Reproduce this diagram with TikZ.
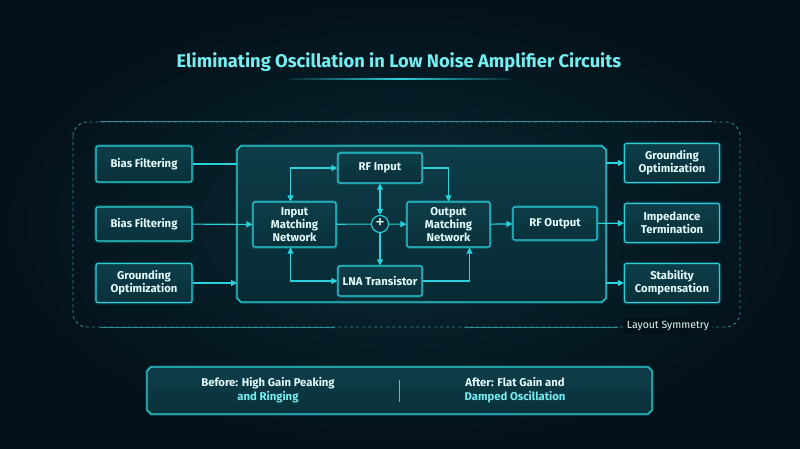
\documentclass[tikz,border=0pt]{standalone}
\usepackage{fontspec}
\setmainfont{Fira Sans}
\usetikzlibrary{positioning,calc,arrows.meta,shapes.misc}
\definecolor{bgdark}{HTML}{03111A}
\definecolor{bgmid}{HTML}{0A2A34}
\definecolor{tealtop}{HTML}{0E3E4A}
\definecolor{tealbot}{HTML}{08303A}
\definecolor{glow}{HTML}{2AD3DB}
\definecolor{dimline}{HTML}{2F8A93}
\definecolor{ink}{HTML}{E4FBFC}
\definecolor{titlecyan}{HTML}{74EEF1}
\tikzset{
  box/.style={draw=glow,line width=1.1pt,rounded corners=2pt,top color=tealtop,
    bottom color=tealbot,inner sep=2pt,text=ink,align=center,
    font=\fontsize{11.3}{12.8}\selectfont\bfseries,
    preaction={draw=glow,draw opacity=0.22,line width=3.5pt}},
  sidebox/.style={box,minimum width=96pt,minimum height=38pt},
  innerbox/.style={box,minimum width=84pt},
  arr/.style={-{Triangle[length=6pt,width=6pt]},draw=glow,line width=1.1pt},
  arrtwo/.style={{Triangle[length=6pt,width=6pt]}-{Triangle[length=6pt,width=6pt]},
    draw=glow,line width=1.1pt},
  link/.style={draw=glow,line width=1.1pt},
}

\begin{document}
\begin{tikzpicture}[x=1pt,y=-1pt]
  \useasboundingbox (0,0) rectangle (800,449);
  \shade[inner color=bgmid,outer color=bgdark] (0,0) rectangle (800,449);

  % title
  \node[font=\fontsize{18.3}{21}\selectfont\bfseries,text=titlecyan] (title) at (399,62)
    {Eliminating Oscillation in Low Noise Amplifier Circuits};
  \shade[left color=bgmid,right color=bgmid,middle color=glow] (290,78.6) rectangle (510,79.6);

  % layout frame
  \draw[dimline,dashed,line width=0.9pt,rounded corners=14pt] (73,122) rectangle (740,327);
  \draw[dimline,line width=1pt] (100,122) -- (712,122);
  \draw[dimline,line width=1pt] (100,327) -- (335,327) (465,327) -- (618,327);
  \node[fill=bgdark,text=ink,inner sep=3pt,font=\fontsize{10.5}{12}\selectfont] (sym) at (668,326)
    {Layout Symmetry};

  % main block
  \node[box,chamfered rectangle,chamfered rectangle xsep=5pt,rounded corners=0pt,
    minimum width=369pt,minimum height=156pt,outer sep=0pt,
    top color=tealtop!90!bgmid,bottom color=tealbot!80!bgdark] (main) at (421.5,224) {};

  % left column
  \node[sidebox,minimum height=36pt] (bias1) at (144,164) {Bias Filtering};
  \node[sidebox,minimum height=34pt] (bias2) at (144,224) {Bias Filtering};
  \node[sidebox,minimum height=39pt] (gndin) at (144,283) {Grounding\\Optimization};

  % right column
  \node[sidebox,minimum width=95pt,minimum height=39pt] (gndout) at (672,163) {Grounding\\Optimization};
  \node[sidebox,minimum width=95pt,minimum height=39pt] (imped) at (672,223) {Impedance\\Termination};
  \node[sidebox,minimum width=95pt,minimum height=39pt] (stab) at (672,283) {Stability\\Compensation};

  % inside the block
  \node[innerbox,minimum height=30pt] (rfin) at (380,168) {RF Input};
  \node[draw=glow,line width=1.1pt,circle,fill=tealbot,minimum size=17pt,inner sep=0pt,
    text=ink,font=\fontsize{19}{19}\selectfont] (sum) at (380,224) {\raisebox{1pt}{+}};
  \node[innerbox,minimum width=83pt,minimum height=45pt] (inmatch) at (294.5,224.5)
    {Input\\Matching\\Network};
  \node[innerbox,minimum width=83pt,minimum height=45pt] (outmatch) at (448.5,224.5)
    {Output\\Matching\\Network};
  \node[innerbox,minimum height=30pt] (lna) at (380,281) {LNA Transistor};
  \node[innerbox,minimum height=33pt] (rfout) at (555,223.5) {RF Output};

  % connectors
  \draw[link] (bias1.east) -- (bias1.east -| main.west);
  \draw[arr] (bias2) -- (inmatch);
  \draw[arr] (gndin.east) -- (gndin.east -| main.west);
  \draw[arrtwo] ($(inmatch.north)+(-4,0)$) |- (rfin.west);
  \draw[arrtwo] ($(inmatch.south)+(-4,0)$) |- (lna.west);
  \draw[link] (inmatch) -- (sum);
  \draw[arr] (sum) -- (outmatch);
  \draw[arrtwo] (rfin) -- (sum);
  \draw[arr] (sum) -- (lna);
  \draw[arr] (rfin.east) -| (outmatch.north);
  \draw[arr] (lna.east) -| ($(outmatch.south)!0.5!(outmatch.south east)$);
  \draw[arr] (outmatch) -- (rfout);
  \draw[arr] (rfout) -- (imped);
  \draw[arr] (gndout.west -| main.east) -- (gndout.west);
  \draw[arr] (stab.west -| main.east) -- (stab.west);

  % summary banner
  \node[box,chamfered rectangle,chamfered rectangle xsep=7pt,rounded corners=0pt,
    minimum width=505pt,minimum height=47pt,outer sep=0pt] (banner) at (399.5,390.5) {};
  \draw[glow,line width=1pt] ($(banner.center)+(0,-11)$) -- ($(banner.center)+(0,11)$);
  \node[text=ink,align=center,font=\fontsize{11.3}{14.5}\selectfont\bfseries] (before) at (268,390)
    {Before: High Gain Peaking\\\textcolor{titlecyan}{and Ringing}};
  \node[text=ink,align=center,font=\fontsize{11.3}{14.5}\selectfont\bfseries] (after) at (515,390)
    {After: Flat Gain and\\\textcolor{titlecyan}{Damped Oscillation}};
\end{tikzpicture}
\end{document}
